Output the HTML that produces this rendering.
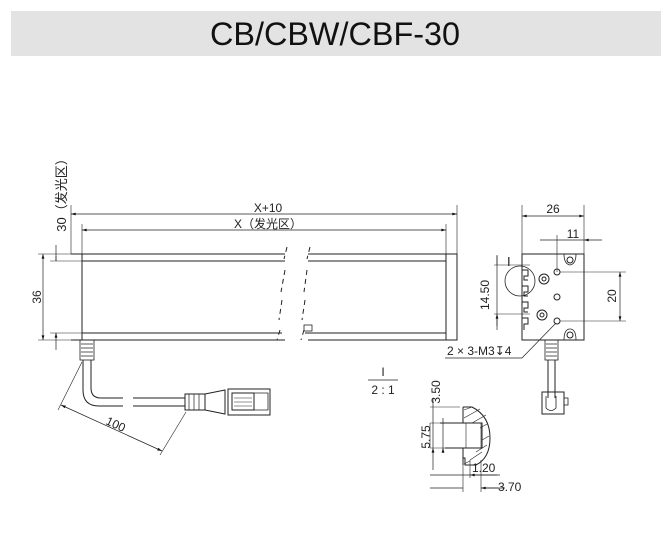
<!DOCTYPE html>
<html><head><meta charset="utf-8"><style>
html,body{margin:0;padding:0;background:#fff;}
svg{display:block;font-family:"Liberation Sans","Noto Sans CJK SC",sans-serif;}
</style></head><body>
<svg width="671" height="535" viewBox="0 0 671 535" xmlns="http://www.w3.org/2000/svg">
<defs>
<marker id="a" viewBox="0 0 10 6" refX="10" refY="3" markerWidth="8" markerHeight="4" orient="auto-start-reverse"><path d="M0,0L10,3L0,6z" fill="#111"/></marker>
</defs>
<rect x="11" y="11" width="650" height="45" fill="#e3e3e3"/>
<text x="335" y="45" font-size="32" text-anchor="middle" fill="#111" textLength="250" lengthAdjust="spacingAndGlyphs">CB/CBW/CBF-30</text>

<g stroke="#222" stroke-width="1" fill="none">
<path d="M71,254H285M308,254H457V340H308M285,340H71Z" />
<path d="M82,254V340M446,254V340"/>
<path d="M82,261H285M308,261H446M82,333H282M305,333H446"/>
<path d="M287,247l-3,12 M285,270l-4,22 M282,300l-3,20 M280,330l-3,10" stroke-dasharray="5,4"/>
<path d="M310,247l-3,12 M307,270l-3,22 M305,300l-3,20 M304,330l-3,10" stroke-dasharray="5,4"/>
<rect x="304" y="325" width="8" height="6" stroke-width="0.8"/>
<path d="M71,254V205M457,254V205M82,254V224M446,254V224" stroke-width="0.6"/>
<path d="M71,214H457" marker-start="url(#a)" marker-end="url(#a)" stroke-width="0.7"/>
<path d="M82,230H446" marker-start="url(#a)" marker-end="url(#a)" stroke-width="0.7"/>
<path d="M38,254H71M50,261H82M50,333H82M38,340H71" stroke-width="0.6"/>
<path d="M43,254V340" marker-start="url(#a)" marker-end="url(#a)" stroke-width="0.7"/>
<path d="M56,245V261M56,333V350" stroke-width="0.7"/>
<path d="M56,256V261M56,338V333" marker-end="url(#a)" stroke-width="0.7"/>
<rect x="80" y="340" width="14" height="20" stroke-width="0.8"/>
<path d="M81,344H93M81,348H93M81,352H93M81,356H93" stroke-width="0.8"/>
<path d="M83,360V390Q83,406 99,406H123M91,360V388Q91,398 101,398H123"/>
<path d="M133,398H185M133,406H185"/>
<path d="M185,394H205V410H185Z"/>
<path d="M189,394V410M194,394V410M199,394V410" stroke-width="0.7"/>
<path d="M205,394L225,390V414L205,410"/>
<rect x="228" y="389" width="42" height="26"/>
<rect x="232" y="393" width="22" height="17"/>
<path d="M234,398H252M234,402H252M234,406H252" stroke-width="0.6"/>
<path d="M254,393H268V410H254" stroke-width="0.8"/>
<path d="M82,362L58,410M186,412L160,455" stroke-width="0.6"/>
<path d="M61,405L162,451" marker-start="url(#a)" marker-end="url(#a)" stroke-width="0.7"/>

<rect x="522" y="254" width="62" height="86"/>
<path d="M522,254V205M584,254V205M557,272V235" stroke-width="0.6"/>
<path d="M522,216H584" marker-start="url(#a)" marker-end="url(#a)" stroke-width="0.7"/>
<path d="M540,240H557M602,240H584" marker-end="url(#a)" stroke-width="0.7"/>
<path d="M557,240H584" stroke-width="0.7"/>
<circle cx="570" cy="260" r="3"/><path d="M564,254Q564,264 570,265Q576,264 576,254" stroke-width="0.8"/>
<circle cx="570" cy="335" r="3"/><path d="M564,340Q564,329 570,329Q576,329 576,340" stroke-width="0.8"/>
<circle cx="557" cy="272" r="3"/><circle cx="557" cy="297" r="3"/><circle cx="557" cy="321" r="3"/>
<circle cx="544" cy="279" r="5"/><circle cx="544" cy="279" r="2"/>
<circle cx="542" cy="315" r="5"/><circle cx="542" cy="315" r="2"/>
<path d="M522,270H528V276H524V280H528M522,286H528V292H524V296H528M522,302H528V308H524V312H528M522,318H528V324H524V330"/>
<circle cx="520" cy="281" r="15" stroke-width="0.8"/>
<path d="M560,272H626M560,321H626" stroke-width="0.6"/>
<path d="M620,272V321" marker-start="url(#a)" marker-end="url(#a)" stroke-width="0.7"/>
<path d="M494,265H530M494,314H530" stroke-width="0.6"/>
<path d="M497,255V330" stroke-width="0.7"/>
<path d="M497,256V265M497,326V314" marker-end="url(#a)" stroke-width="0.7"/>
<path d="M445,358H522L556,323" stroke-width="0.7"/>
<rect x="545" y="340" width="13" height="20" stroke-width="0.8"/>
<path d="M546,344H557M546,348H557M546,352H557M546,356H557" stroke-width="0.8"/>
<path d="M548,360V398M555,360V398"/>
<rect x="542" y="392" width="22" height="22"/>
<path d="M546,396V408Q551,413 556,408V396" stroke-width="0.8"/>
<rect x="564" y="398" width="4" height="7" stroke-width="0.8"/>

<path d="M368,380H398" stroke-width="0.8"/>
<path d="M463,407H472Q490,416 490,438Q490,458 476,465H465V458H463"/>
<path d="M463,407V423M463,448V465M440,423H482V448H445" />
<path d="M466,423V448" stroke-width="0.6"/>
<path d="M464,410l8,-3M464,418l16,-9M472,423l14,-8M480,428l7,-4M482,440l7,-4M476,452l11,-7M470,460l12,-8M464,464l6,-3" stroke-width="0.6"/>
<path d="M481,423V448" stroke-width="0.6"/>
<path d="M430,407H460M430,423H445M430,448H445" stroke-width="0.6"/>
<path d="M433,398V407M433,470V448" marker-end="url(#a)" stroke-width="0.7"/>
<path d="M433,407V448" stroke-width="0.7"/>
<path d="M430,423V448" stroke-width="0.6"/>
<path d="M443,418V423M443,453V448" marker-end="url(#a)" stroke-width="0.7"/>
<path d="M443,423V448" stroke-width="0.7"/>
<path d="M463,465V492M470,460V478M481,460V492" stroke-width="0.6"/>
<path d="M430,475H463M500,475H470" marker-end="url(#a)" stroke-width="0.7"/>
<path d="M463,475H497" stroke-width="0.7"/>
<path d="M430,488H463M505,488H481" marker-end="url(#a)" stroke-width="0.7"/>
<path d="M481,488H498" stroke-width="0.7"/>
</g>

<g fill="#222" font-size="12">
<text x="268" y="212" text-anchor="middle">X+10</text>
<text x="268" y="228" text-anchor="middle">X（发光区）</text>
<text transform="translate(41,297) rotate(-90)" text-anchor="middle">36</text>
<text transform="translate(66,192) rotate(-90)" text-anchor="middle" font-size="13">30（发光区）</text>
<text transform="translate(114,428) rotate(25)" text-anchor="middle">100</text>
<text x="553" y="213" text-anchor="middle">26</text>
<text x="573" y="238" text-anchor="middle">11</text>
<text transform="translate(616,296) rotate(-90)" text-anchor="middle">20</text>
<text transform="translate(489,295) rotate(-90)" text-anchor="middle">14.50</text>
<text x="507" y="266" font-size="13">I</text>
<text x="447" y="355">2 × 3-M3↧4</text>
<text x="383" y="376" text-anchor="middle">I</text>
<text x="383" y="394" text-anchor="middle">2 : 1</text>
<text transform="translate(440,392) rotate(-90)" text-anchor="middle">3.50</text>
<text transform="translate(430,437) rotate(-90)" text-anchor="middle">5.75</text>
<text x="472" y="472">1.20</text>
<text x="498" y="491">3.70</text>
</g>
</svg>
</body></html>
